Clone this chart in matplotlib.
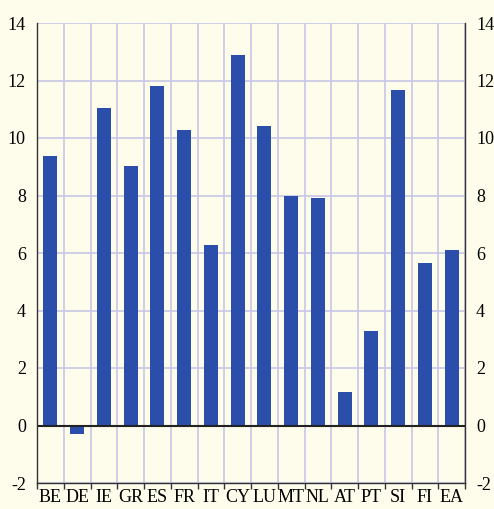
import numpy as np
import matplotlib
matplotlib.use("Agg")
import matplotlib.pyplot as plt
from matplotlib.ticker import FixedLocator

countries = ["BE", "DE", "IE", "GR", "ES", "FR", "IT", "CY",
             "LU", "MT", "NL", "AT", "PT", "SI", "FI", "EA"]
values = [9.39, -0.30, 11.04, 9.02, 11.81, 10.27, 6.28, 12.88,
          10.43, 8.00, 7.92, 1.15, 3.28, 11.66, 5.65, 6.10]
yticks = [-2, 0, 2, 4, 6, 8, 10, 12, 14]

bg = "#FEFDEC"
grid_col = "#C6C8E8"
bar_col = "#2B4EAA"

plt.rcParams["font.family"] = ["Liberation Serif", "DejaVu Serif"]

fig = plt.figure(figsize=(4.94, 5.09), dpi=100, facecolor=bg)
ax = fig.add_axes([37 / 494, 26 / 509, 428 / 494, 460 / 509], facecolor=bg)

x = np.arange(len(countries))
ax.bar(x, values, width=0.52, color=bar_col, zorder=3)

ax.set_xlim(-0.5, len(countries) - 0.5)
ax.set_ylim(-2, 14)

ax.set_xticks(x)
ax.set_xticklabels(countries, fontsize=13)
ax.xaxis.set_minor_locator(FixedLocator(np.arange(-0.5, len(countries), 1.0)))
ax.tick_params(axis="x", which="major", length=0, pad=4)
ax.tick_params(axis="x", which="minor", length=4, width=1, color="#333333", direction="out")
ax.grid(axis="x", which="minor", color=grid_col, lw=1.2, zorder=0)

ax.set_yticks(yticks)
ax.set_yticklabels([str(t) for t in yticks], fontsize=13)
ax.tick_params(axis="y", length=0, pad=8, labelright=True, right=False)
ax.grid(axis="y", which="major", color=grid_col, lw=1.2, zorder=0)

ax.axhline(0, color="#222222", lw=1.5, zorder=4)

ax.spines["top"].set_visible(False)
for s in ["left", "right", "bottom"]:
    ax.spines[s].set_color("#333333")
    ax.spines[s].set_linewidth(1.0)
    ax.spines[s].set_zorder(5)

fig.savefig("out.png", dpi=100, facecolor=bg)
